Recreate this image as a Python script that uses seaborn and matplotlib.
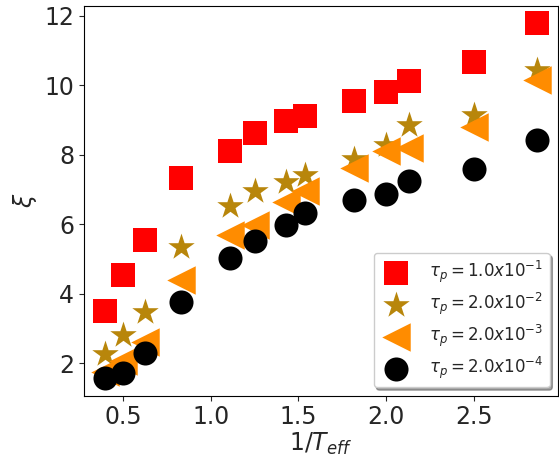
import numpy as np
import pandas as pd
import seaborn as sns
import matplotlib.pyplot as plt

# inverse effective temperature
inv_t = [0.4, 0.5, 0.625, 0.833, 1.111, 1.25, 1.429, 1.538, 1.818, 2.0, 2.128, 2.5, 2.857]

# correlation length for each tau_p
xi_1e1 = [3.5, 4.54, 5.54, 7.33, 8.11, 8.62, 8.97, 9.11, 9.54, 9.8, 10.13, 10.65, 11.8]
xi_2e2 = [2.27, 2.8, 3.48, 5.35, 6.52, 6.95, 7.2, 7.42, 7.88, 8.27, 8.85, 9.15, 10.42]
xi_2e3 = [1.75, 2.07, 2.6, 4.4, 5.67, 5.97, 6.62, 6.95, 7.6, 8.1, 8.2, 8.8, 10.15]
xi_2e4 = [1.58, 1.7, 2.3, 3.77, 5.03, 5.5, 5.98, 6.32, 6.7, 6.86, 7.25, 7.58, 8.42]

labels = [r'$\tau_p=1.0x10^{-1}$', r'$\tau_p=2.0x10^{-2}$',
          r'$\tau_p=2.0x10^{-3}$', r'$\tau_p=2.0x10^{-4}$']
colors = ['red', 'darkgoldenrod', 'darkorange', 'black']
markers = ['s', '*', '<', 'o']
sizes = [320, 400, 420, 300]

sns.set_style("ticks")
plt.rcParams['axes.edgecolor'] = 'black'
fig = plt.figure(figsize=(5.59, 4.59), dpi=100)
ax = fig.add_axes([0.150, 0.138, 0.848, 0.850])

for ys, lab, c, m, s in zip([xi_1e1, xi_2e2, xi_2e3, xi_2e4], labels, colors, markers, sizes):
    df = pd.DataFrame({'x': inv_t, 'y': ys})
    sns.scatterplot(data=df, x='x', y='y', marker=m, color=c, s=s,
                    linewidth=0, label=lab, ax=ax)

ax.set_xlim(0.278, 2.977)
ax.set_ylim(1.06, 12.29)
ax.set_xticks([0.5, 1.0, 1.5, 2.0, 2.5])
ax.set_yticks([2, 4, 6, 8, 10, 12])
ax.tick_params(labelsize=17)
ax.set_xlabel(r'$1/T_{eff}$', fontsize=17, labelpad=1)
ax.set_ylabel(r'$\xi$', fontsize=17)
ax.legend(loc='lower right', fontsize=12, shadow=True, fancybox=True,
          markerscale=1.0, borderpad=0.35, labelspacing=0.35, handletextpad=1.0,
          borderaxespad=0.5)

fig.savefig('out.png', dpi=100)
